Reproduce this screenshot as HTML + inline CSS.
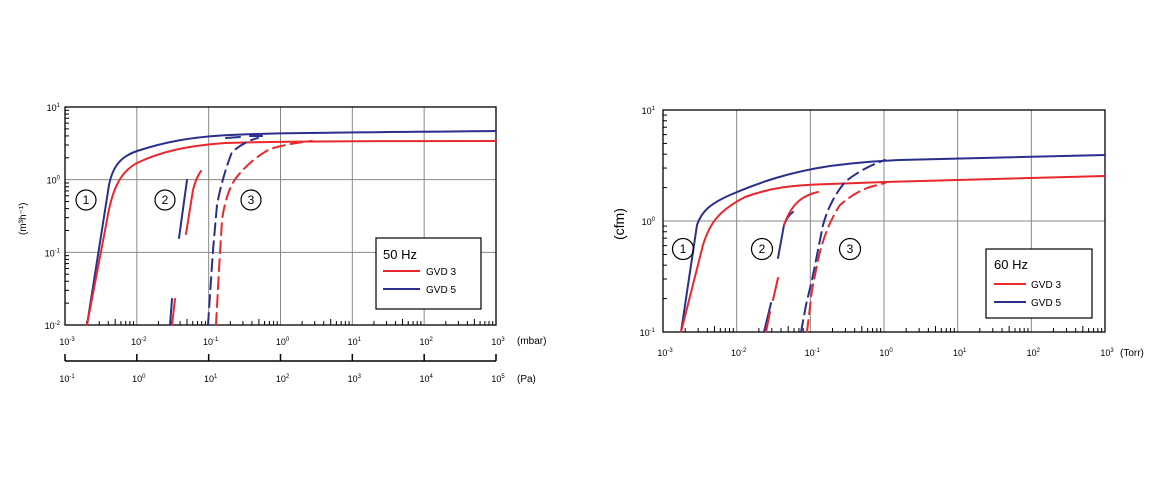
<!DOCTYPE html>
<html><head><meta charset="utf-8"><style>
body{margin:0;background:#fff;}
svg{display:block;font-family:"Liberation Sans",sans-serif;}
</style></head><body>
<svg id="s" width="1160" height="480" xmlns="http://www.w3.org/2000/svg">
<g id="g"></g>
<!-- left curves -->
<g fill="none" stroke-width="2" stroke-linecap="round" stroke-linejoin="round">
<path stroke="#2b2f8c" d="M87,325 L109,185 C113,165 122,156 137,151 C165,142 190,137 230,135 C270,133 300,133 496,131"/>
<path stroke="#e8282d" d="M87,325 L107,220 C112,190 120,172 137,163 C160,152 185,146 225,143 C260,142 300,141 496,141"/>
<path stroke="#2b2f8c" d="M170,325 L172,299 M179,238 L187,180"/>
<path stroke="#e8282d" d="M172,325 L175,299 M186,234 L193,190 Q196,178 201,171"/>
<path stroke="#2b2f8c" stroke-dasharray="12,6" d="M208,325 L210,295 L213,250 L217,205 Q222,178 232,152 Q245,141 258,138"/>
<path stroke="#2b2f8c" d="M226,138 L240,137 M250,136 L262,136"/>
<path stroke="#e8282d" stroke-dasharray="12,6" d="M216,325 L219,270 L222,220 Q226,192 236,178 Q250,160 270,149 Q290,143 312,141"/>
</g>
<!-- right curves -->
<g fill="none" stroke-width="2" stroke-linecap="round" stroke-linejoin="round">
<path stroke="#2b2f8c" d="M681,332 L697,225 C702,210 712,203 730,195 C760,182 790,172 830,166 C860,162 880,161 900,160 L1105,155"/>
<path stroke="#e8282d" d="M681,332 L703,245 C710,222 720,210 745,197 C770,188 790,185 830,184 L885,182 L1105,176"/>
<path stroke="#2b2f8c" d="M764,332 L771,303 M778,258 L784,225 Q788,215 793,212"/>
<path stroke="#e8282d" d="M766,332 L770,312 M773,300 L778,278 M784,225 Q790,208 800,200 Q808,194 818,192"/>
<path stroke="#2b2f8c" stroke-dasharray="12,6" d="M801,332 L806,305 L812,280 L818,250 L823,225 Q830,200 845,182 Q862,168 885,160"/>
<path stroke="#e8282d" stroke-dasharray="12,6" d="M807,332 L812,290 L818,260 Q825,228 840,205 Q855,192 870,187 L885,183"/>
</g>
<!-- circles -->
<g fill="none" stroke="#000" stroke-width="1.2">
<circle cx="86" cy="200" r="10"/><circle cx="165" cy="200" r="10"/><circle cx="251" cy="200" r="10"/>
<circle cx="683" cy="249" r="10.5"/><circle cx="762" cy="249" r="10.5"/><circle cx="850" cy="249" r="10.5"/>
</g>
<g font-size="12" text-anchor="middle">
<text x="86" y="204">1</text><text x="165" y="204">2</text><text x="251" y="204">3</text>
<text x="683" y="253">1</text><text x="762" y="253">2</text><text x="850" y="253">3</text>
</g>
<!-- legends -->
<rect x="376" y="238" width="105" height="71" fill="#fff" stroke="#000" stroke-width="1.2"/>
<text x="383" y="259" font-size="13">50 Hz</text>
<line x1="383" y1="271" x2="420" y2="271" stroke="#e8282d" stroke-width="2"/>
<line x1="383" y1="289" x2="420" y2="289" stroke="#2b2f8c" stroke-width="2"/>
<text x="426" y="275" font-size="10">GVD 3</text><text x="426" y="293" font-size="10">GVD 5</text>
<rect x="986" y="249" width="106" height="69" fill="#fff" stroke="#000" stroke-width="1.2"/>
<text x="994" y="269" font-size="13">60 Hz</text>
<line x1="994" y1="284" x2="1026" y2="284" stroke="#e8282d" stroke-width="2"/>
<line x1="994" y1="302" x2="1026" y2="302" stroke="#2b2f8c" stroke-width="2"/>
<text x="1031" y="288" font-size="10">GVD 3</text><text x="1031" y="306" font-size="10">GVD 5</text>
<text font-size="10" transform="translate(26,235) rotate(-90)">(m³h⁻¹)</text>
<text font-size="14" transform="translate(624,240) rotate(-90)">(cfm)</text>
<text x="517" y="344" font-size="10">(mbar)</text>
<text x="517" y="382" font-size="10">(Pa)</text>
<text x="1120" y="356" font-size="10">(Torr)</text>
</svg>
<script>
const g=document.getElementById('g');let h='';
function L(x1,y1,x2,y2,c,w){h+=`<line x1="${x1}" y1="${y1}" x2="${x2}" y2="${y2}" stroke="${c}" stroke-width="${w}"/>`;}
function lab(x,y,e,a){h+=`<text x="${x}" y="${y}" font-size="9" text-anchor="${a||'middle'}">10<tspan font-size="6" dy="-4">${e}</tspan></text>`;}
function chart(x0,x1,y0,y1,nx,ny,xe0,ye0,ylabx,xlaby){
 const dx=(x1-x0)/nx,dy=(y1-y0)/ny;
 for(let i=1;i<nx;i++)L(x0+i*dx,y0,x0+i*dx,y1,'#888',1);
 for(let j=1;j<ny;j++)L(x0,y0+j*dy,x1,y0+j*dy,'#888',1);
 for(let i=0;i<nx;i++)for(let k=2;k<10;k++){const x=x0+i*dx+Math.log10(k)*dx;L(x,y1,x,y1-(k==5?6:4),'#000',1);}
 for(let j=0;j<ny;j++)for(let k=2;k<10;k++){const y=y1-j*dy-Math.log10(k)*dy;L(x0,y,x0+4,y,'#000',1);}
 h+=`<rect x="${x0}" y="${y0}" width="${x1-x0}" height="${y1-y0}" fill="none" stroke="#000" stroke-width="1.3"/>`;
 for(let i=0;i<=nx;i++)lab(x0+i*dx+2,xlaby,xe0+i);
 for(let j=0;j<=ny;j++)lab(ylabx,y1-j*dy+4,ye0+j,'end');
}
chart(65,496,107,325,6,3,-3,-2,60,345);
chart(663,1105,110,332,6,2,-3,-1,655,356);
L(65,361,496,361,'#000',1.5);
for(let i=0;i<=6;i++){const x=65+i*431/6;L(x,354,x,361,'#000',1.5);lab(x+2,382,-1+i);}
g.innerHTML=h;
</script>
</body></html>
